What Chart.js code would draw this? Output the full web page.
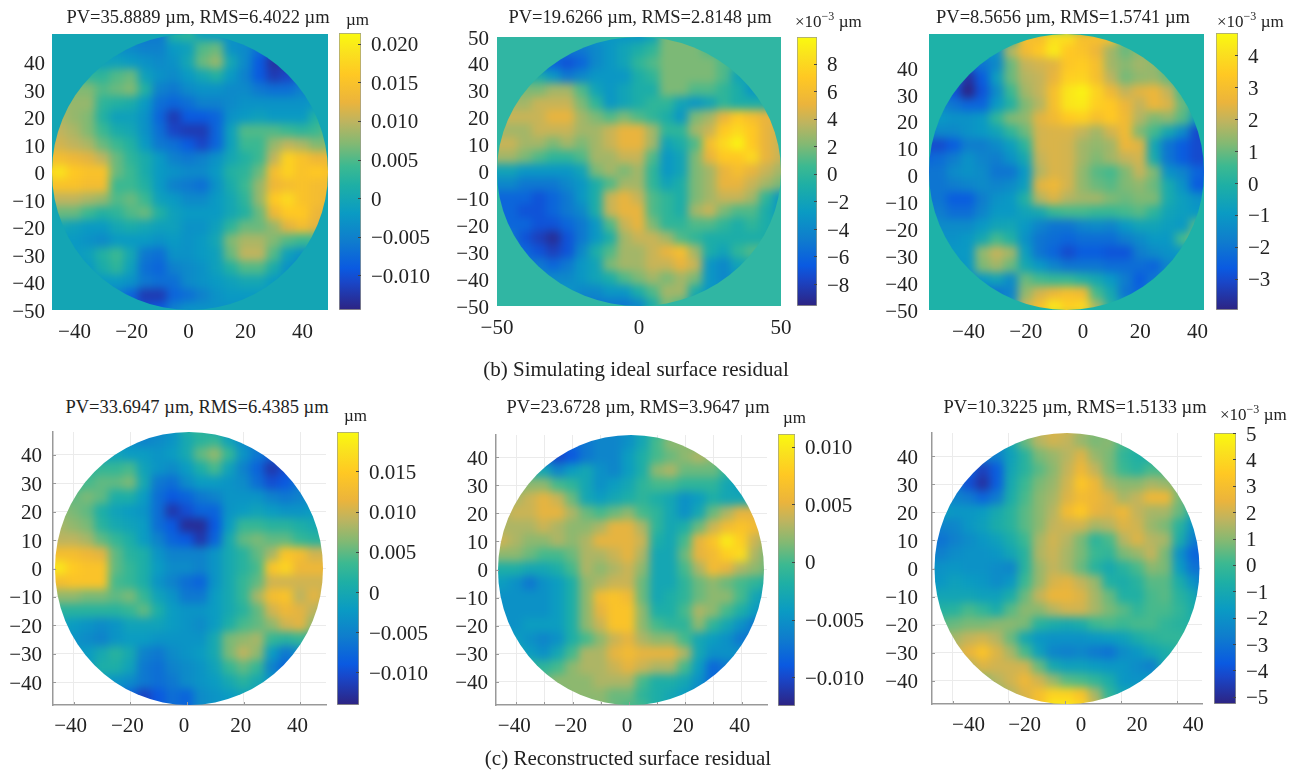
<!DOCTYPE html>
<html>
<head>
<meta charset="utf-8">
<title>Surface residual</title>
<script src="https://cdn.jsdelivr.net/npm/chart.js@4"></script>
<style>
    html, body { margin: 0; padding: 0; background: #fff; }
    #page { position: relative; width: 1296px; height: 772px; overflow: hidden; font-family: "Liberation Serif", serif; color: #222; }
    #page canvas { position: absolute; }
    .txt { position: absolute; white-space: nowrap; transform: translate(-50%, -50%); }
    .unit { position: absolute; white-space: nowrap; font-size: 17px; transform: translateY(-50%); }
    .unit sup { font-size: 12px; line-height: 0; }
</style>
</head>
<body>
<div id="page"></div>
<script>
"use strict";

// x / y position of every cell in the residual maps
const gridX = [-50, -45, -40, -35, -30, -25, -20, -15, -10, -5, 0, 5, 10, 15, 20, 25, 30, 35, 40, 45, 50];
const gridXShifted = [-55, -50, -45, -40, -35, -30, -25, -20, -15, -10, -5, 0, 5, 10, 15, 20, 25, 30, 35, 40, 45];
const gridXLast = [-49, -44, -39, -34, -29, -24, -19, -14, -9, -4, 1, 6, 11, 16, 21, 26, 31, 36, 41, 46, 51];
const gridY = [50, 45, 40, 35, 30, 25, 20, 15, 10, 5, 0, -5, -10, -15, -20, -25, -30, -35, -40, -45, -50];
const gridYShifted = [51, 46, 41, 36, 31, 26, 21, 16, 11, 6, 1, -4, -9, -14, -19, -24, -29, -34, -39, -44, -49];

// residuals, in 10^-3 um, one row per gridY value
const residualA = [
    [0, 0, 0, 0, 0, 0, -5, -6, -6, 2, 3, -1, -2, -3, -3, -3, -3, -3, -3, -3, -3],
    [0, 0, 0, 0, 0, -3, -4, -5, -5, -2, -1, 5, 6, -3, -4, -7, -9, -9, -6, -3, -3],
    [3, 3, 3, 0, -1, -1, -2, -3, -4, -3, 0, 6, 8, 0, -4, -9, -13, -12, -7, -4, -3],
    [4, 4, 4, 3, 3, 5, 6, -1, -3, -4, -2, 0, 2, -2, -5, -9, -12, -11, -7, -4, -3],
    [6, 6, 7, 7, 5, 6, 7, 2, -5, -6, -4, -3, -3, -4, -4, -6, -7, -7, -5, -3, -2],
    [8, 8, 8, 8, 3, 2, 1, -2, -7, -8, -7, -5, -5, -4, -3, -3, -3, -3, -3, -2, -1],
    [9, 9, 8, 7, 2, -1, -1, -3, -8, -12, -9, -9, -8, -3, -2, -1, -2, -2, -2, 2, 4],
    [10, 10, 9, 7, 4, 1, 0, -3, -7, -11, -12, -12, -8, -1, 5, 5, 5, 4, 3, 4, 6],
    [11, 11, 10, 9, 6, 4, 2, -2, -6, -7, -9, -11, -8, -1, 4, 4, 8, 10, 9, 7, 7],
    [14, 14, 13, 12, 10, 6, 3, 1, -2, -5, -6, -5, -3, 0, 2, 4, 10, 17, 15, 13, 13],
    [17, 19, 16, 15, 15, 6, 4, 1, -2, -3, -4, -4, -2, 2, 3, 6, 14, 17, 15, 16, 15],
    [15, 15, 15, 14, 14, 4, 4, 2, -2, -5, -6, -7, -3, 1, 4, 8, 13, 14, 15, 14, 14],
    [10, 10, 10, 9, 8, 5, 6, 4, -1, -2, -4, -4, -2, 0, 3, 8, 16, 18, 15, 14, 13],
    [6, 6, 6, 4, 2, 3, 5, 6, 2, -1, -2, -2, -2, 0, 2, 6, 13, 16, 16, 13, 12],
    [0, 0, -1, -2, -2, 0, 1, 0, -1, -1, -3, -3, -1, 3, 6, 6, 8, 12, 14, 12, 10],
    [-2, -2, -2, -3, -4, -2, -2, -2, -3, -2, -3, -2, 0, 7, 9, 9, 7, 5, 4, 4, 3],
    [-2, -2, -2, -1, 2, 4, 0, -6, -7, -3, -3, -2, -1, 6, 10, 10, 5, -1, -3, -2, -2],
    [-2, -2, -3, -2, 1, 3, -1, -7, -8, -5, -4, -3, -1, 2, 5, 5, 1, -3, -5, -3, -2],
    [-3, -3, -3, -3, -2, -2, -3, -6, -7, -7, -4, -3, -2, -1, 0, 0, -2, -3, -3, -3, -3],
    [-3, -3, -3, -3, -4, -5, -8, -12, -12, -8, -7, -5, -3, -2, -2, -2, -2, -3, -3, -3, -3],
    [-3, -3, -3, -3, -4, -5, -8, -10, -9, -5, -3, -3, -3, -3, -3, -3, -3, -3, -3, -3, -3]
];
const residualB = [
    [-3, -3, -3, -3, -3, -3, -3, -3, -3, -3, -3, -2, 2, 2, 2, 1, 0, 0, 0, 0, 0],
    [-5, -5, -5, -5, -5, -5, -5, -4, -3, -2, -1, 0, 2, 2, 2, 1, 0, 0, 0, 0, 0],
    [-6, -6, -6, -6, -6, -7, -6, -4, -3, -2, 0, 1, 2, 2, 2, 2, 1, 0, 0, 0, 0],
    [-1, -1, -1, -1, -3, -5, -4, -3, -3, -3, -1, 0, 2, 2, 2, 2, 1, -2, -2, -2, -2],
    [2, 2, 2, 2, 3, 3, 1, -2, -3, -2, -1, -1, 2, 2, 1, 1, 0, -1, -3, -3, -3],
    [3, 3, 3, 4, 4, 4, 2, 0, -3, -2, -1, 0, 0, -2, -3, -2, 0, -1, -1, -1, -1],
    [4, 4, 4, 4, 5, 5, 3, 2, 1, 2, 1, 0, -1, -3, 2, 3, 5, 7, 6, 5, 5],
    [3, 3, 3, 4, 4, 4, 3, 3, 4, 5, 5, 3, 0, 0, 3, 4, 7, 8, 7, 5, 4],
    [4, 4, 3, 3, 2, 3, 2, 3, 4, 5, 5, 3, -2, -1, 1, 6, 8, 9.5, 7, 5, 4],
    [3, 3, 2, 1, 0, 0, 1, 3, 3, 4, 4, 1, -3, -2, 2, 5, 7, 7, 8, 5, 4],
    [-2, -2, -3, -3, -3, -3, -2, 2, 3, 2, 3, 0, -3, -2, 2, 3, 5, 6, 5, 4, 3],
    [-4, -4, -5, -5, -5, -4, -3, -1, 1, 3, 3, 0, -2, -1, 2, 3, 5, 5, 4, 3, 2],
    [-6, -6, -6, -7, -6, -5, -3, -1, 4, 5, 4, 1, 0, -1, 2, 3, 4, 4, 3, 0, -3],
    [-6, -6, -7, -7, -6, -5, -4, -1, 4, 5, 5, 1, 0, -1, 3, 4, 2, 1, 1, -1, -3],
    [-6, -6, -6, -7, -7, -6, -5, -3, 1, 4, 5, 2, 0, 0, 1, 1, 0, -1, 0, -1, -2],
    [-5, -5, -7, -8, -9, -7, -5, -3, -1, 3, 4, 4, 3, 1, 0, -1, -1, -1, -1, -1, -1],
    [-5, -5, -6, -7, -8, -7, -4, -1, 1, 3, 3, 4, 5, 6, 3, -1, -2, 0, 1, 1, 1],
    [-4, -4, -5, -5, -6, -5, -3, -2, 2, 3, 3, 4, 4, 5, 4, -3, -4, -2, -1, -1, -1],
    [-3, -3, -3, -4, -4, -4, -3, -2, -1, 1, 2, 3, 2, 3, 2, -3, -4, -3, -2, -2, -2],
    [-3, -3, -3, -3, -3, -3, -4, -4, -3, -3, -1, 1, 3, 3, -1, -3, -3, -3, -3, -3, -3],
    [-4, -4, -4, -4, -4, -4, -5, -5, -5, -5, -4, -1, 2, 1, -3, -3, -3, -3, -3, -3, -3]
];
const residualC = [
    [0, 0, 0, 0, 0, 0, 0, 3, 3, 4, 4, 3, 3, 3, 1, 0, 0, 0, 0, 0, 0],
    [-1, -1, -1, -1, -1, -1.2, 1.8, 2.8, 3.4, 4.3, 3.4, 3.2, 2.6, 1.6, 1, 1.4, 1.3, 0.6, 0, 0, 0],
    [-2, -2, -2, -2.3, -2, -1.5, 1, 2, 2.2, 2.4, 3.3, 3.5, 3, 1.6, 1.3, 1.6, 1.4, 0.6, -0.5, -0.5, -0.5],
    [-2, -2, -2, -3.6, -2.6, -0.8, 1, 1.8, 2, 2.5, 3.6, 3.7, 3, 1.9, 1.1, 1.4, 1.5, 1, -0.5, -1, -1],
    [-2, -2, -2.8, -3.9, -2.8, -1.4, 0.5, 1.6, 2, 3, 4.2, 4.5, 3.7, 2.7, 2, 2.4, 2.6, 2, 0.6, -0.8, -0.8],
    [-1.5, -1.5, -2, -2.4, -2.4, -1, 0, 1.2, 1.8, 3, 4.2, 4.3, 3.6, 3.4, 2.6, 2, 2.6, 2.3, 1, 0, 0],
    [-1, -1, -1.2, -1.2, -1, 0.3, 1.2, 1.4, 2.4, 2.8, 3.4, 3.6, 3, 3.4, 2.8, 1.8, 1.2, 1.4, 0.8, -0.8, -1],
    [-1.5, -1.5, -1.5, -1.2, -1, -0.6, 0.3, 1, 2.2, 2.3, 2.3, 2, 1.6, 2.2, 2.8, 1.2, 0.6, -0.4, -1.4, -3, -3.5],
    [-3, -3, -2.6, -1.8, -1.8, -1.4, -0.8, 0.2, 2.2, 2.3, 2.2, 1.6, 1.4, 1.6, 2.6, 2.4, -0.5, -2, -2.6, -3, -3],
    [-2.4, -2.2, -1.8, -1.2, -1.6, -1.8, -1.2, -0.4, 2, 2.3, 2.2, 1.6, 1.2, 1.6, 2, 2.2, -0.3, -2, -2.6, -3, -3],
    [-2, -2, -1.4, -1.2, -1.4, -2, -2, -1, 1.8, 2.3, 2.2, 1.4, 0.8, 0.6, 1.2, 2, 1.2, -1.2, -1.6, -2.4, -2.6],
    [-2, -2, -1.8, -1.6, -1.4, -1.6, -1.4, -0.8, 2.4, 2.7, 2.2, 1.4, 1, 0.8, 1.2, 1.4, 1, -0.3, -1.2, -2.6, -2.8],
    [-2, -2, -2.6, -2.6, -1.8, -1.2, -1, 0, 1.8, 2.3, 1.8, 1.6, 1.6, 1.2, 1, 1.2, 1.2, -0.3, -0.8, -1.2, -1.4],
    [-1.8, -1.8, -2.2, -2.2, -1.6, -1, -1, -0.6, -0.4, 0.4, 0.6, 0.6, 0.4, 0.4, 0.6, 0.8, 0.2, -0.6, -0.8, -1, -1],
    [-1.5, -1.4, -1.4, -1.4, -1, -0.6, -0.5, -1, -1.6, -2, -2, -1.6, -1.4, -1.6, -1, -0.6, -0.6, -0.8, -1, 0.8, 1.4],
    [-1.2, -1.2, -1.2, -1, -0.4, 0.6, 0, -1.2, -2, -2.2, -2.4, -2.2, -2.2, -2.2, -1.8, -1.4, -1, -1, 0.6, 1.4, 1],
    [-1, -1, -1, -1, 1.4, 2, 1.6, -0.8, -2, -2.4, -3, -2.6, -2.6, -2.8, -2.8, -1.8, -1.4, -1.2, -1, -1, -1],
    [-1, -1, -1.2, -1, 1.2, 1.6, 1, -0.4, -1, -1.6, -2, -2, -2, -2.2, -2.2, -2.2, -2.4, -1.6, -1, -1, -1],
    [-1.4, -1.4, -1.4, -1.4, -1, -0.6, -1.4, 1, 0.6, 0.4, 0.4, 0, -0.4, -1, -1.8, -2.6, -2, -1.2, -1, -1, -1],
    [-2, -2, -2, -2, -2, -2, -1.6, 1.4, 2.2, 2.6, 3, 2.8, 0.6, -0.4, -2, -2.4, -1.2, -1, -1, -1, -1],
    [-1, -1, -1, -1, -1, -1, -1, 2, 3, 4.2, 3.6, 3.8, 1.6, 0, -1, -1, -1, -1, -1, -1, -1]
];
const residualD = [
    [-2, -2, -2, -2, -2, -2, -3, -4, -5, -3, 2, 3, -1, -3, -3, -3, -3, -3, -3, -3, -3],
    [-2, -2, -2, -2, -2, -3, -4, -5, -4, -3, 0, 2, 3, -1, -4, -6, -5, -4, -3, -3, -3],
    [-1, -1, -1, -1, -2, -1, -2, -2, -3, -2, 0, 5, 7, 3, -3, -6, -8, -7, -4, -3, -3],
    [1, 1, 1, 2, 3, 3, 4, -1, -3, -4, -2, 1, 4, -1, -5, -8, -12, -10, -5, -3, -3],
    [3, 3, 3, 4, 5, 5, 6, 0, -6, -7, -4, -2, -2, -3, -4, -7, -10, -9, -6, -3, -3],
    [6, 6, 5, 6, 5, 1, 1, -2, -7, -9, -8, -6, -5, -3, -3, -3, -5, -6, -5, -3, -3],
    [7, 7, 6, 5, 1, -1, -2, -3, -7, -12, -10, -8, -8, -3, -2, -1, -2, -3, -3, -2, -2],
    [8, 8, 7, 6, 2, 0, -1, -2, -7, -9, -13, -13, -9, -2, 3, 3, 2, 2, 1, 0, 0],
    [9, 9, 9, 8, 5, 3, 1, -2, -5, -8, -9, -12, -8, 0, 5, 6, 5, 5, 3, 2, 2],
    [13, 13, 13, 12, 11, 5, 2, 1, -3, -5, -5, -5, -3, 0, 2, 5, 8, 14, 13, 10, 10],
    [16, 18, 15, 14, 14, 5, 3, 1, -2, -4, -4, -5, -3, 0, 2, 4, 14, 16, 12, 12, 12],
    [13, 13, 14, 14, 14, 4, 3, 1, -3, -5, -7, -8, -3, 0, 3, 5, 10, 10, 10, 10, 10],
    [7, 7, 7, 6, 6, 5, 6, 3, -1, -3, -6, -6, -2, 0, 3, 8, 13, 14, 9, 11, 9],
    [2, 2, 2, 2, 2, 2, 3, 5, 1, -2, -3, -3, -2, 0, 2, 5, 10, 12, 11, 9, 7],
    [-1, -1, -2, -3, -4, -3, -1, -1, -1, -2, -3, -4, -2, 1, 4, 5, 7, 10, 11, 7, 5],
    [-3, -3, -3, -4, -5, -3, -2, -2, -3, -3, -3, -3, 0, 6, 7, 8, 3, 2, 3, 2, 2],
    [-3, -3, -3, -2, 0, 2, 0, -5, -6, -4, -3, -2, 0, 6, 9, 7, -2, -6, -4, -2, -2],
    [-2, -2, -3, -2, 1, 1, -1, -6, -7, -5, -4, -3, -1, 3, 5, 3, -5, -8, -5, -3, -2],
    [-2, -2, -2, -3, -2, -3, -4, -6, -7, -6, -4, -3, -2, 0, 2, 0, -3, -4, -3, -2, -2],
    [-2, -2, -2, -3, -4, -5, -8, -11, -9, -7, -8, -4, -3, -2, -1, -1, -2, -2, -2, -2, -2],
    [-2, -2, -3, -3, -4, -5, -8, -11, -9, -7, -8, -4, -3, -3, -3, -3, -3, -3, -3, -3, -3]
];
const residualE = [
    [-5, -5, -5, -5, -5, -6, -6, -6, -6, -6, -5, -3, -1, 0, 0, 0, 0, 0, 0, 0, 0],
    [-5, -5, -5, -6, -7, -8, -8, -7, -6, -6, -5, -3, 0, 2, 2, 1, 0, 0, 0, 0, 0],
    [-7, -7, -7, -8, -8, -10, -9, -7, -6, -6, -4, -2, 0, 1, 2, 3, 2, 0, -2, -2, -2],
    [-2, -2, -2, -2, -3, -6, -4, -3, -5, -6, -4, -2, 2, 3, 1, 1, 1, -1, -2, -2, -2],
    [1, 1, 1, 2, 2, 0, -1, -3, -5, -4, -3, -1, 0, 0, -1, -1, -1, -3, -4, -4, -4],
    [2, 2, 3, 4, 5, 4, 1, -3, -4, -3, -2, -1, -2, -3, -5, -4, -2, -3, -3, -3, -3],
    [3, 3, 4, 4, 5, 5, 3, 1, 0, 1, 2, 0, -1, -3, -5, -3, 1, 3, 5, 5, 5],
    [3, 3, 3, 3, 4, 3, 2, 2, 3, 5, 5, 3, -1, -3, -2, 1, 4, 6, 7, 6, 5],
    [4, 4, 3, 2, 2, 3, 2, 3, 5, 5, 5, 4, -2, -3, 0, 5, 7, 10, 8, 4, 2],
    [2, 2, 2, 1, 0, 0, 1, 3, 3, 4, 5, 3, -3, -3, 1, 5, 6, 8, 9, 3, 1],
    [-2, -2, -2, -3, -3, -2, 0, 3, 2, 3, 4, 2, -3, -3, 0, 3, 6, 5, 3, 2, 1],
    [-4, -4, -5, -7, -5, -4, -2, 2, 3, 4, 4, 1, -3, -3, -1, 1, 2, 1, 0, -1, -2],
    [-5, -5, -5, -5, -5, -4, -2, 2, 6, 7, 6, 1, -3, -2, -1, 1, 2, 2, 0, -3, -5],
    [-5, -5, -5, -5, -5, -4, -2, 2, 5, 7, 7, 2, -2, -2, 0, 3, 2, 0, -2, -4, -6],
    [-5, -5, -5, -4, -4, -4, -2, 2, 4, 7, 7, 2, 0, -1, -1, 2, -1, -3, -5, -7, -7],
    [-4, -4, -4, -5, -6, -5, -2, 0, 2, 4, 5, 3, 2, 2, 0, -3, -4, -5, -7, -7, -7],
    [-3, -3, -3, -4, -5, -3, 0, 3, 3, 5, 6, 5, 5, 5, 3, -3, -5, -5, -5, -6, -6],
    [-2, -2, -2, -1, -1, 0, 2, 3, 3, 4, 5, 4, 3, 3, 0, -4, -8, -7, -6, -6, -6],
    [-1, -1, -1, -1, 1, 2, 2, 2, 3, 3, 3, 0, -2, -2, -3, -5, -8, -7, -6, -6, -6],
    [0, 0, 0, 0, 0, 1, 2, 2, 2, 1, 1, -1, -2, -3, -4, -6, -7, -7, -6, -6, -6],
    [0, 0, 0, 0, 0, 0, 0, 1, 2, 1, 0, 0, -2, -3, -4, -6, -6, -6, -6, -6, -6]
];
const residualF = [
    [-2, -2, -2, -2, -2, -2, -1, 0.5, 1.8, 2.2, 2, 1.4, 1, 0.6, 0, 0, 0, 0, 0, 0, 0],
    [-2, -2, -2, -2, -2, -2.4, -1, 0.6, 1.6, 2, 1.8, 1.2, 0.8, 1, 0.2, -0.2, -0.5, -0.5, -0.5, -0.5, -0.5],
    [-2.5, -2.5, -2.5, -2.5, -2.6, -2.6, -1.4, -0.4, 0.8, 1.2, 1.6, 2.2, 1.2, 0.8, -0.2, -0.6, -0.8, -0.8, -0.8, -0.8, -0.8],
    [-3, -3, -3, -3.5, -4.4, -3.6, -1.2, -0.4, 0.4, 1, 1.8, 2.6, 1.8, 0.8, 0, -0.4, 0.2, 0.2, -0.4, -0.8, -0.8],
    [-3, -3, -3, -4, -4.8, -3.6, -1, 0, 0.8, 1.2, 2, 3.3, 2.6, 1.4, 1, 1, 1.4, 1.2, 0.8, -0.2, -0.5],
    [-2.5, -2.5, -2.5, -2.8, -3.4, -2.8, -0.8, 0.2, 1, 1.4, 2.2, 2.8, 2.6, 2.2, 1.4, 1.8, 2.6, 2.6, 0.8, -0.5, -1],
    [-1.5, -1.5, -1.8, -1.8, -1.6, -1, -0.4, 0.4, 1, 1.6, 2.8, 3.4, 2.4, 2.2, 2.6, 1.8, 1.4, 1.4, 0.6, -0.8, -1.5],
    [-2.5, -2.5, -2.4, -1.8, -1.4, -0.8, -0.4, 0.4, 1, 1.8, 2, 2, 1.4, 1.6, 2.2, 2, 1.2, 0.8, -0.4, -2, -3],
    [-3, -3, -2.6, -2.2, -1.8, -1.4, -0.8, 0, 1.4, 2, 1.6, 0.8, -0.3, 0.2, 1.6, 2.2, 1.6, 1.4, -0.8, -2.6, -3.6],
    [-2.6, -2.6, -2.2, -2, -2, -1.8, -1.2, -0.4, 1.5, 1.9, 1.4, 0.8, 0, -0.2, 0.8, 1.2, 1.8, 0.8, -2, -3.4, -3.6],
    [-2, -2, -1.8, -2, -2, -2.2, -2.4, -0.4, 1.2, 1.8, 1.4, 0.6, -0.4, -1, -0.4, 0.2, 1, 0.8, -1.6, -3, -3.2],
    [-1.8, -1.8, -1.4, -1.6, -1.8, -2.2, -1.8, 0, 1.2, 2.1, 2.3, 1.8, 1.2, -0.6, -0.8, -0.4, 0.4, 0.4, -0.8, -2, -3],
    [-1.2, -1.2, -1.2, -1.2, -1.4, -1.4, -0.8, 0.6, 1.8, 2.5, 2.5, 2.2, 1.4, 0.6, -0.6, -0.6, 0.2, 0.4, -0.4, -1, -3],
    [-0.5, -0.5, -0.4, 0.2, -0.2, -0.8, 0.4, 1, 1, 1.6, 2, 2, 1.4, 0.8, 0.4, -0.2, 0.2, 0.2, -0.2, -0.8, -1.2],
    [0.4, 0.4, 0.6, 0.8, 0.8, 1, 1, 0.8, -0.4, -0.8, -1, -0.8, 0, 0.2, 0, 0.2, 0.2, -0.2, -0.4, -0.6, -0.8],
    [1.2, 1.2, 1.4, 1.8, 2, 1.6, 0.6, -1, -1.8, -2, -2, -2, -1.8, -1.6, -1.4, -0.8, -0.4, -0.2, -0.2, -0.2, -0.2],
    [1.6, 1.6, 1.8, 2.4, 3.2, 2.2, 1.4, 0.2, -1.4, -2.4, -2.6, -2.4, -2.8, -3, -2.2, -1.8, -1.2, -0.8, -0.4, -0.4, -0.4],
    [1, 1, 1.2, 1.6, 2.2, 2, 2, 2, 0.6, -1, -1.4, -1.4, -1.6, -1.8, -1.8, -2.2, -2.6, -1, -0.6, -0.6, -0.6],
    [0.6, 0.6, 0.6, 0.6, 1, 1.6, 2, 2.6, 2, 1.2, 0.4, 0.2, -0.2, -0.8, -1.8, -2, -1.6, -1, -0.8, -0.8, -0.8],
    [0.6, 0.6, 0.6, 0.6, 0.6, 1, 1.6, 2.2, 3, 3.8, 3.8, 3.2, 1.4, -0.2, -1.2, -1, -1, -0.8, -0.8, -0.8, -0.8],
    [0.6, 0.6, 0.6, 0.6, 0.6, 0.6, 1, 1.6, 3, 4.6, 4.6, 4, 2, 0.4, -0.6, -0.8, -0.8, -0.8, -0.8, -0.8, -0.8]
];

// axis ticks
const ticksTens = [-50, -40, -30, -20, -10, 0, 10, 20, 30, 40];
const ticksFifty = [-50, 0, 50];
const ticksFiftyY = [-50, -40, -30, -20, -10, 0, 10, 20, 30, 40, 50];
const ticksTwenty = [-40, -20, 0, 20, 40];
const ticksLowerY = [-40, -30, -20, -10, 0, 10, 20, 30, 40];
const ticksEveryTen = [-40, -30, -20, -10, 0, 10, 20, 30, 40];

// colour bar ticks (same unit as the residuals) and their labels
const barTicksA = [-10, -5, 0, 5, 10, 15, 20];
const barLabelsA = ["−0.010", "−0.005", "0", "0.005", "0.010", "0.015", "0.020"];
const barTicksB = [-8, -6, -4, -2, 0, 2, 4, 6, 8];
const barLabelsB = ["−8", "−6", "−4", "−2", "0", "2", "4", "6", "8"];
const barTicksC = [-3, -2, -1, 0, 1, 2, 3, 4];
const barLabelsC = ["−3", "−2", "−1", "0", "1", "2", "3", "4"];
const barTicksD = [-10, -5, 0, 5, 10, 15];
const barLabelsD = ["−0.010", "−0.005", "0", "0.005", "0.010", "0.015"];
const barTicksE = [-10, -5, 0, 5, 10];
const barLabelsE = ["−0.010", "−0.005", "0", "0.005", "0.010"];
const barTicksF = [-5, -4, -3, -2, -1, 0, 1, 2, 3, 4, 5];
const barLabelsF = ["−5", "−4", "−3", "−2", "−1", "0", "1", "2", "3", "4", "5"];

const titles = [
    "PV=35.8889 µm, RMS=6.4022 µm", "PV=19.6266 µm, RMS=2.8148 µm", "PV=8.5656 µm, RMS=1.5741 µm",
    "PV=33.6947 µm, RMS=6.4385 µm", "PV=23.6728 µm, RMS=3.9647 µm", "PV=10.3225 µm, RMS=1.5133 µm"
];

// colour map of the bars, position from the bottom then rgb
const colourStops = [
    [0, 45, 35, 130], [0.1, 25, 70, 200], [0.15, 10, 90, 225], [0.25, 15, 125, 205], [0.35, 10, 155, 195],
    [0.45, 30, 175, 165], [0.52, 60, 185, 145], [0.6, 130, 185, 115], [0.68, 190, 180, 95], [0.75, 235, 180, 60],
    [0.85, 255, 200, 35], [0.93, 250, 225, 30], [1, 250, 250, 15]
];

function colourAt(t) {
    t = Math.min(1, Math.max(0, t));
    let i = 0;
    while (i < colourStops.length - 2 && colourStops[i + 1][0] < t) i++;
    const a = colourStops[i], b = colourStops[i + 1];
    const k = (t - a[0]) / (b[0] - a[0]);
    const mix = n => Math.round(a[n] + (b[n] - a[n]) * k);
    return `rgb(${mix(1)},${mix(2)},${mix(3)})`;
}

const minusSign = v => String(v).replace("-", "−");

// the cells are painted on a spare canvas, then copied blurred and cut to the aperture
const softCells = {
    id: "softCells",
    beforeDatasetsDraw(chart, args, opts) {
        const spare = document.createElement("canvas");
        spare.width = chart.width;
        spare.height = chart.height;
        const spareCtx = spare.getContext("2d");
        chart.getDatasetMeta(0).data.forEach(point => point.draw(spareCtx));
        const ctx = chart.ctx, a = chart.chartArea;
        ctx.save();
        ctx.beginPath();
        ctx.ellipse((a.left + a.right) / 2 + opts.shift, (a.top + a.bottom) / 2, a.width / 2 - opts.inset, a.height / 2, 0, 0, Math.PI * 2);
        ctx.clip();
        ctx.filter = "blur(4px)";
        ctx.drawImage(spare, 0, 0);
        ctx.restore();
        return false;
    },
    beforeDraw(chart, args, opts) {
        if (!opts.fill) return;
        const a = chart.chartArea;
        chart.ctx.fillStyle = opts.fill;
        chart.ctx.fillRect(a.left, a.top, a.width, a.height);
    }
};

// short ticks pointing inside
const innerTicks = {
    id: "innerTicks",
    afterDraw(chart, args, opts) {
        if (!opts.size) return;
        const ctx = chart.ctx, a = chart.chartArea;
        ctx.save();
        ctx.strokeStyle = opts.color;
        ctx.lineWidth = 1;
        ctx.beginPath();
        if (opts.side === "bar") {
            chart.scales.y.ticks.forEach(t => {
                const y = Math.round(chart.scales.y.getPixelForValue(t.value)) + 0.5;
                ctx.moveTo(a.right, y);
                ctx.lineTo(a.right - opts.size, y);
            });
        } else {
            chart.scales.x.ticks.forEach(t => {
                const x = Math.round(chart.scales.x.getPixelForValue(t.value)) + 0.5;
                ctx.moveTo(x, a.bottom);
                ctx.lineTo(x, a.bottom - opts.size);
            });
            chart.scales.y.ticks.forEach(t => {
                const y = Math.round(chart.scales.y.getPixelForValue(t.value)) + 0.5;
                ctx.moveTo(a.left, y);
                ctx.lineTo(a.left + opts.size, y);
            });
        }
        ctx.stroke();
        ctx.restore();
    }
};

const page = document.getElementById("page");
const tickFont = { family: "Liberation Serif", size: 21 };
const PAD = { top: 14, right: 22, axisY: 52, axisX: 40 };

function addCanvas(left, top, width, height) {
    const c = document.createElement("canvas");
    c.width = width;
    c.height = height;
    c.style.left = left + "px";
    c.style.top = top + "px";
    page.appendChild(c);
    return c;
}

function addText(cls, x, y, html, size) {
    const d = document.createElement("div");
    d.className = cls;
    d.style.left = x + "px";
    d.style.top = y + "px";
    if (size) d.style.fontSize = size + "px";
    d.innerHTML = html;
    page.appendChild(d);
}

function drawMap(p) {
    const w = p.box[2] - p.box[0], h = p.box[3] - p.box[1];
    const cells = [], colours = [];
    p.values.forEach((row, j) => row.forEach((v, i) => {
        cells.push({ x: p.gridX[i], y: p.gridY[j] });
        colours.push(colourAt((v - p.range[0]) / (p.range[1] - p.range[0])));
    }));
    new Chart(addCanvas(p.box[0] - PAD.axisY, p.box[1] - PAD.top, w + PAD.axisY + PAD.right, h + PAD.top + PAD.axisX), {
        type: "scatter",
        plugins: [softCells, innerTicks],
        data: {
            datasets: [{
                data: cells,
                pointStyle: "rect",
                pointRadius: 11,
                pointHoverRadius: 11,
                pointBorderWidth: 0,
                pointBackgroundColor: colours,
                clip: false
            }]
        },
        options: {
            responsive: false,
            animation: false,
            events: [],
            layout: { autoPadding: false, padding: { top: PAD.top, right: PAD.right, left: 0, bottom: 0 } },
            plugins: {
                legend: { display: false },
                tooltip: { enabled: false },
                softCells: { fill: p.fill, inset: p.inset, shift: p.shift },
                innerTicks: { size: p.fill ? 0 : 3, color: "#999", side: "map" }
            },
            scales: {
                x: {
                    type: "linear",
                    min: p.xRange[0],
                    max: p.xRange[1],
                    afterBuildTicks: s => { s.ticks = p.xTicks.map(v => ({ value: v })); },
                    afterFit: s => { s.height = PAD.axisX; s.paddingLeft = 0; s.paddingRight = 0; },
                    grid: { display: !p.fill, color: "#ebebeb", drawTicks: false },
                    border: { display: !p.fill, color: "#999", width: 1.5 },
                    ticks: {
                        font: tickFont, color: "#222", padding: p.xPad, maxRotation: 0, autoSkip: false, labelOffset: p.xOffset,
                        callback: v => p.xLabels.includes(v) ? minusSign(v) : ""
                    }
                },
                y: {
                    min: p.yRange[0],
                    max: p.yRange[1],
                    afterBuildTicks: s => { s.ticks = p.yTicks.map(v => ({ value: v })); },
                    afterFit: s => { s.width = PAD.axisY; s.paddingTop = 0; s.paddingBottom = 0; },
                    grid: { display: !p.fill, color: "#ebebeb", drawTicks: false },
                    border: { display: !p.fill, color: "#999", width: 1.5 },
                    ticks: { font: tickFont, color: "#222", padding: p.yPad, labelOffset: 2, autoSkip: false, callback: minusSign }
                }
            }
        }
    });
}

function drawBar(p) {
    const b = p.bar;
    new Chart(addCanvas(b[0] - 1, b[1] - PAD.top, b[2] - b[0] + 80, b[3] - b[1] + 2 * PAD.top), {
        type: "bar",
        plugins: [innerTicks],
        data: {
            labels: [""],
            datasets: [{
                data: [p.range],
                barPercentage: 1,
                categoryPercentage: 1,
                borderColor: "#9d9d8c",
                borderWidth: 1,
                borderSkipped: false,
                backgroundColor: ctx => {
                    const area = ctx.chart.chartArea;
                    if (!area) return "#999";
                    const g = ctx.chart.ctx.createLinearGradient(0, area.bottom, 0, area.top);
                    colourStops.forEach(s => g.addColorStop(s[0], `rgb(${s[1]},${s[2]},${s[3]})`));
                    return g;
                }
            }]
        },
        options: {
            responsive: false,
            animation: false,
            events: [],
            layout: { autoPadding: false, padding: { top: PAD.top, bottom: PAD.top, left: 1, right: 0 } },
            plugins: {
                legend: { display: false },
                tooltip: { enabled: false },
                innerTicks: { size: 3, color: "#444", side: "bar" }
            },
            scales: {
                x: { display: false },
                y: {
                    position: "right",
                    min: p.range[0],
                    max: p.range[1],
                    afterBuildTicks: s => { s.ticks = p.barTicks.map(v => ({ value: v })); },
                    afterFit: s => { s.width = 79; s.paddingTop = 0; s.paddingBottom = 0; },
                    grid: { display: false },
                    border: { display: false },
                    ticks: {
                        font: tickFont, color: "#222", padding: 2, labelOffset: 2, autoSkip: false,
                        callback: v => p.barLabels[p.barTicks.indexOf(v)]
                    }
                }
            }
        }
    });
}

const panels = [
    { values: residualA, gridX: gridX, gridY: gridY, range: [-14.5, 21.4], box: [52, 34, 328, 310], bar: [339, 33, 361, 310],
      xRange: [-47.9, 48.9], yRange: [-50, 50.5], xTicks: ticksTwenty, xLabels: ticksTwenty, yTicks: ticksTens, fill: "rgb(20,165,180)", inset: 0, shift: 0, xPad: 10, yPad: 7, xOffset: 0, barTicks: barTicksA, barLabels: barLabelsA },
    { values: residualB, gridX: gridX, gridY: gridY, range: [-9.6, 9.96], box: [497, 37, 781, 306], bar: [797, 37, 817, 306],
      xRange: [-50, 50], yRange: [-50, 50], xTicks: ticksFifty, xLabels: ticksFifty, yTicks: ticksFiftyY, fill: "rgb(48,182,163)", inset: 0, shift: 0, xPad: 10, yPad: 8, xOffset: 0, barTicks: barTicksB, barLabels: barLabelsB },
    { values: residualC, gridX: gridXShifted, gridY: gridYShifted, range: [-3.98, 4.7], box: [929, 34, 1204, 310], bar: [1216, 33, 1238, 310],
      xRange: [-53.8, 42.3], yRange: [-50, 52.7], xTicks: ticksTwenty, xLabels: ticksTwenty, yTicks: ticksTens, fill: "rgb(30,178,168)", inset: 0, shift: 0, xPad: 10, yPad: 11, xOffset: 0, barTicks: barTicksC, barLabels: barLabelsC },
    { values: residualD, gridX: gridX, gridY: gridY, range: [-14.05, 19.9], box: [53, 432, 326, 705], bar: [337, 432, 359, 705],
      xRange: [-47.3, 49], yRange: [-48, 48], xTicks: ticksTwenty, xLabels: ticksTwenty, yTicks: ticksLowerY, fill: null, inset: 2.5, shift: -0.5, xPad: 9, yPad: 11, xOffset: -3, barTicks: barTicksD, barLabels: barLabelsD },
    { values: residualE, gridX: gridX, gridY: gridY, range: [-12.5, 11.1], box: [496, 435, 767, 705], bar: [778, 434, 795, 706],
      xRange: [-47.2, 49], yRange: [-48.2, 47.9], xTicks: ticksEveryTen, xLabels: ticksTwenty, yTicks: ticksLowerY, fill: null, inset: 2.5, shift: -0.5, xPad: 9, yPad: 8, xOffset: -2, barTicks: barTicksE, barLabels: barLabelsE },
    { values: residualF, gridX: gridXLast, gridY: gridY, range: [-5.27, 5], box: [932, 433, 1202, 704], bar: [1214, 433, 1236, 704],
      xRange: [-47.3, 48.8], yRange: [-48.2, 48.2], xTicks: ticksTwenty, xLabels: ticksTwenty, yTicks: ticksLowerY, fill: null, inset: 2.5, shift: 0, xPad: 9, yPad: 14, xOffset: 16, barTicks: barTicksF, barLabels: barLabelsF }
];

panels.forEach(p => { drawMap(p); drawBar(p); });

// titles, captions and units
const titleAt = [[198, 17], [640, 17], [1063, 17], [197, 407], [638, 407], [1075, 407]];
titles.forEach((t, i) => addText("txt", titleAt[i][0], titleAt[i][1], t, 18.5));
addText("txt", 636, 369, "(b) Simulating ideal surface residual", 21);
addText("txt", 628, 758, "(c) Reconstructed surface residual", 21);
const scaled = "×10<sup>−3</sup> µm";
addText("unit", 346, 20, "µm");
addText("unit", 795, 22, scaled);
addText("unit", 1217, 22, scaled);
addText("unit", 344, 416, "µm");
addText("unit", 783, 418, "µm");
addText("unit", 1220, 415, scaled);
</script>
</body>
</html>
